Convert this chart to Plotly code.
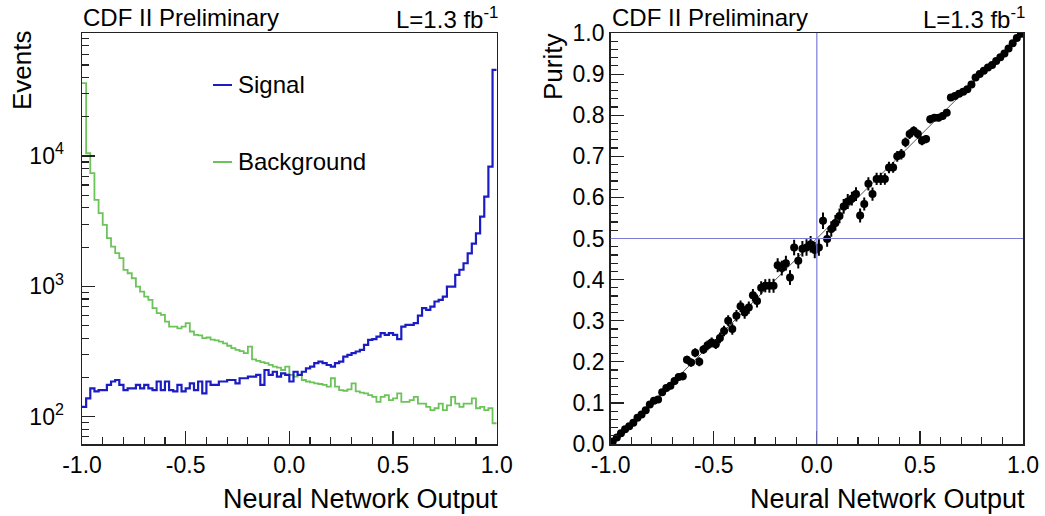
import numpy as np
import plotly.graph_objects as go

# ---------------- data ----------------
n_bins = 100
x_range = [-1.0, 1.0]

signal = [
    119, 138, 165, 156, 160, 160, 175, 186, 191, 175,
    160, 165, 165, 175, 165, 175, 165, 160, 186, 160,
    186, 160, 156, 175, 156, 165, 180, 160, 186, 151,
    186, 175, 175, 186, 186, 191, 191, 180, 197, 197,
    203, 203, 209, 175, 228, 209, 221, 203, 215, 209,
    186, 221, 209, 221, 235, 242, 257, 264, 257, 249,
    242, 257, 264, 289, 298, 307, 316, 325, 355, 388,
    394, 411, 437, 424, 437, 424, 393, 491, 506, 506,
    521, 595, 680, 660, 699, 765, 787, 835, 995, 995,
    1225, 1340, 1504, 1790, 2130, 2553, 3427, 4879, 8290, 45800,
]

background = [
    36200, 10500, 7380, 4610, 3640, 2960, 2340, 2020, 1795, 1643,
    1337, 1260, 1153, 995, 910, 834, 787, 680, 622, 603,
    536, 491, 491, 476, 491, 521, 450, 424, 420, 400,
    405, 390, 385, 377, 365, 350, 335, 325, 318, 307,
    345, 275, 268, 262, 257, 250, 242, 238, 228, 242,
    209, 203, 209, 191, 186, 183, 180, 178, 175, 170,
    197, 170, 160, 158, 162, 180, 156, 153, 151, 146,
    142, 130, 142, 146, 134, 138, 151, 130, 130, 134,
    142, 126, 126, 119, 112, 116, 126, 112, 122, 142,
    126, 119, 126, 126, 138, 116, 119, 112, 116, 89,
]

purity = [
    0.006, 0.016, 0.026, 0.036, 0.043, 0.052, 0.064, 0.072, 0.082, 0.096,
    0.105, 0.108, 0.126, 0.136, 0.142, 0.153, 0.163, 0.165, 0.205, 0.198,
    0.222, 0.200, 0.230, 0.240, 0.247, 0.243, 0.258, 0.275, 0.300, 0.280,
    0.312, 0.335, 0.320, 0.332, 0.362, 0.348, 0.380, 0.385, 0.385, 0.385,
    0.435, 0.428, 0.440, 0.405, 0.478, 0.446, 0.475, 0.478, 0.486, 0.472,
    0.478, 0.543, 0.499, 0.523, 0.538, 0.555, 0.578, 0.590, 0.597, 0.608,
    0.556, 0.584, 0.633, 0.608, 0.645, 0.645, 0.645, 0.673, 0.673, 0.700,
    0.705, 0.734, 0.754, 0.762, 0.754, 0.738, 0.742, 0.790, 0.794, 0.794,
    0.798, 0.806, 0.843, 0.847, 0.852, 0.857, 0.863, 0.875, 0.892, 0.900,
    0.908, 0.916, 0.922, 0.932, 0.941, 0.950, 0.962, 0.975, 0.988, 0.998,
]

purity_err = [
    0.004, 0.004, 0.005, 0.005, 0.005, 0.006, 0.006, 0.006, 0.007, 0.007,
    0.007, 0.008, 0.008, 0.008, 0.009, 0.009, 0.009, 0.010, 0.010, 0.010,
    0.011, 0.011, 0.011, 0.012, 0.012, 0.012, 0.013, 0.013, 0.013, 0.014,
    0.014, 0.014, 0.015, 0.015, 0.015, 0.016, 0.016, 0.016, 0.017, 0.017,
    0.017, 0.018, 0.018, 0.018, 0.019, 0.019, 0.019, 0.020, 0.020, 0.020,
    0.020, 0.020, 0.019, 0.019, 0.019, 0.018, 0.018, 0.018, 0.017, 0.017,
    0.017, 0.016, 0.016, 0.016, 0.015, 0.015, 0.014, 0.014, 0.013, 0.013,
    0.013, 0.012, 0.012, 0.011, 0.011, 0.011, 0.010, 0.010, 0.009, 0.009,
    0.009, 0.008, 0.008, 0.007, 0.007, 0.007, 0.006, 0.006, 0.006, 0.005,
    0.005, 0.005, 0.004, 0.004, 0.004, 0.003, 0.003, 0.003, 0.002, 0.002,
]

diag_x = [-1.0, 1.0]
diag_y = [0.0, 1.0]
cut_nn = 0.0
cut_purity = 0.5

x_ticks = [-1.0, -0.5, 0.0, 0.5, 1.0]
x_ticktext = ["-1.0", "-0.5", "0.0", "0.5", "1.0"]
ylog_ticks = [100, 1000, 10000]
ylog_ticktext = ["10<sup>2</sup>", "10<sup>3</sup>", "10<sup>4</sup>"]
ylog_minor = [70, 80, 90] + [m * 100 for m in range(2, 10)] + \
             [m * 1000 for m in range(2, 10)] + [m * 10000 for m in range(2, 9)]

header_left = "CDF II Preliminary"
header_right = "L=1.3 fb<sup>-1</sup>"
x_title = "Neural Network Output"

# ---------------- derived ----------------
edges = np.linspace(x_range[0], x_range[1], n_bins + 1)
centers = 0.5 * (edges[:-1] + edges[1:])
sig_step = list(signal) + [signal[-1]]
bkg_step = list(background) + [background[-1]]

FONT = "Liberation Sans, Arial, Helvetica, sans-serif"
BLUE = "#1c1cc4"
GREEN = "#6cc35a"
CUTBLUE = "#7b7bd6"
AXC = "#222222"

fig = go.Figure()

fig.add_trace(go.Scatter(x=edges, y=bkg_step, mode="lines", line_shape="hv",
                         line=dict(color=GREEN, width=1.8), xaxis="x", yaxis="y",
                         showlegend=False))
fig.add_trace(go.Scatter(x=edges, y=sig_step, mode="lines", line_shape="hv",
                         line=dict(color=BLUE, width=2.2), xaxis="x", yaxis="y",
                         showlegend=False))

fig.add_trace(go.Scatter(x=diag_x, y=diag_y, mode="lines",
                         line=dict(color="#555555", width=1), xaxis="x2", yaxis="y2",
                         showlegend=False))
fig.add_trace(go.Scatter(x=centers, y=purity, mode="markers",
                         marker=dict(color="black", size=8),
                         error_y=dict(type="data", array=purity_err, color="black",
                                      thickness=2, width=0),
                         xaxis="x2", yaxis="y2", showlegend=False))

TICK_SIZE = 23
common_x = dict(range=x_range, tickvals=x_ticks, ticktext=x_ticktext,
                ticks="inside", ticklen=13, tickwidth=1.2, tickcolor=AXC,
                showline=True, linecolor=AXC, linewidth=1.5, mirror=True,
                showgrid=False, zeroline=False, automargin=False,
                tickfont=dict(family=FONT, size=TICK_SIZE, color="black"),
                minor=dict(dtick=0.1, tick0=0, ticks="inside", ticklen=7,
                           tickwidth=1.2, tickcolor=AXC, showgrid=False))

L_DOM = [0.0, 0.4407]
R_DOM = [0.5618, 1.0]

fig.update_layout(
    width=1045, height=516,
    margin=dict(l=82, r=22, t=33, b=72, autoexpand=False),
    paper_bgcolor="white", plot_bgcolor="white",
    font=dict(family=FONT, color="black"),
    xaxis=dict(domain=L_DOM, anchor="y", **common_x),
    yaxis=dict(domain=[0, 1], anchor="x", type="log", range=[1.79, 4.944],
               tickvals=ylog_ticks, ticktext=ylog_ticktext,
               ticks="inside", ticklen=13, tickwidth=1.2, tickcolor=AXC,
               showline=True, linecolor=AXC, linewidth=1.5, mirror=True,
               showgrid=False, zeroline=False, ticklabelstandoff=12,
               automargin=False,
               tickfont=dict(family=FONT, size=TICK_SIZE, color="black"),
               minor=dict(tickvals=ylog_minor, ticks="inside", ticklen=7,
                          tickwidth=1.2, tickcolor=AXC, showgrid=False)),
    xaxis2=dict(domain=R_DOM, anchor="y2", **common_x),
    yaxis2=dict(domain=[0, 1], anchor="x2", range=[0, 1], dtick=0.1, tick0=0,
                tickformat=".1f", automargin=False,
                ticks="inside", ticklen=13, tickwidth=1.2, tickcolor=AXC,
                showline=True, linecolor=AXC, linewidth=1.5, mirror=True,
                showgrid=False, zeroline=False,
                tickfont=dict(family=FONT, size=TICK_SIZE, color="black"),
                minor=dict(dtick=0.02, tick0=0, ticks="inside", ticklen=7,
                           tickwidth=1.2, tickcolor=AXC, showgrid=False)),
)

# cut lines on the purity panel
fig.add_shape(type="line", xref="x2", yref="y2 domain", x0=cut_nn, x1=cut_nn,
              y0=0, y1=1, line=dict(color=CUTBLUE, width=1.2))
fig.add_shape(type="line", xref="x2 domain", yref="y2", x0=0, x1=1,
              y0=cut_purity, y1=cut_purity, line=dict(color=CUTBLUE, width=1.2))

# legend (ROOT-style, inside left panel)
def px_x(px):
    return (px - 82) / 941.0

def px_y(py):
    return (444 - py) / 411.0

for name, col, py in [("Signal", BLUE, 85), ("Background", GREEN, 162)]:
    fig.add_shape(type="line", xref="paper", yref="paper",
                  x0=px_x(213), x1=px_x(232), y0=px_y(py), y1=px_y(py),
                  line=dict(color=col, width=2))
    fig.add_annotation(x=px_x(236), y=px_y(py), xref="paper", yref="paper",
                       text=name, showarrow=False, xanchor="left", yanchor="middle",
                       font=dict(family=FONT, size=24, color="black"))

# headers
for xl, xr in [(81, 500), (610, 1027)]:
    fig.add_annotation(x=px_x(xl), y=px_y(18), xref="paper", yref="paper",
                       text=header_left, showarrow=False, xanchor="left",
                       yanchor="middle", font=dict(family=FONT, size=24))
    fig.add_annotation(x=px_x(xr), y=px_y(18), xref="paper", yref="paper",
                       text=header_right, showarrow=False, xanchor="right",
                       yanchor="middle", font=dict(family=FONT, size=24))
    fig.add_annotation(x=px_x(xr), y=px_y(499), xref="paper", yref="paper",
                       text=x_title, showarrow=False, xanchor="right",
                       yanchor="middle", font=dict(family=FONT, size=27))

fig.add_annotation(x=px_x(22), y=px_y(70), xref="paper", yref="paper",
                   text="Events", showarrow=False, textangle=-90,
                   xanchor="center", yanchor="middle", font=dict(family=FONT, size=26))
fig.add_annotation(x=px_x(553), y=px_y(67), xref="paper", yref="paper",
                   text="Purity", showarrow=False, textangle=-90,
                   xanchor="center", yanchor="middle", font=dict(family=FONT, size=26))

fig.write_html("out.html",
               config={"displayModeBar": False, "staticPlot": True},
               post_script="document.body.style.margin='0px';"
                           "document.body.style.overflow='hidden';")
